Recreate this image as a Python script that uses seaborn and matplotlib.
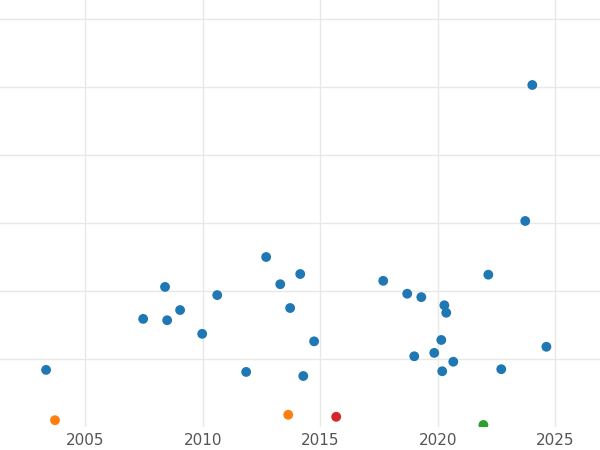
import matplotlib
matplotlib.use("Agg")
import matplotlib.pyplot as plt
import seaborn as sns
import pandas as pd

# Values (year, relative value)
years = [2003.34, 2007.47, 2008.40, 2008.49, 2009.04, 2009.98, 2010.62, 2011.85,
         2012.70, 2013.30, 2013.72, 2014.15, 2014.28, 2014.74, 2017.68, 2018.70,
         2019.00, 2019.30, 2019.85, 2020.15, 2020.28, 2020.36, 2020.19, 2020.66,
         2022.15, 2022.70, 2023.72, 2024.02, 2024.62,
         2003.72, 2013.64, 2015.68, 2021.94]
values = [0.84, 1.59, 2.06, 1.57, 1.72, 1.37, 1.94, 0.81,
          2.50, 2.10, 1.75, 2.25, 0.75, 1.26, 2.15, 1.96,
          1.04, 1.91, 1.09, 1.28, 1.79, 1.68, 0.82, 0.96,
          2.24, 0.85, 3.03, 5.03, 1.18,
          0.10, 0.18, 0.15, 0.03]
groups = ["A"] * 29 + ["B", "B", "C", "D"]
palette = {"A": "#1f77b4", "B": "#ff7f0e", "C": "#d62728", "D": "#2ca02c"}

df = pd.DataFrame({"year": years, "value": values, "group": groups})

sns.set_theme(style="whitegrid")
fig = plt.figure(figsize=(6, 4.5), dpi=100)
ax = fig.add_axes([0, 23 / 450, 1, 427 / 450])
sns.scatterplot(data=df, x="year", y="value", hue="group", palette=palette,
                s=50, edgecolor="none", legend=False, ax=ax, clip_on=True)
ax.set_xlim(2001.38, 2026.9)
ax.set_ylim(0, 6.28)
ax.set_xticks([2005, 2010, 2015, 2020, 2025])
ax.set_yticks([1, 2, 3, 4, 5, 6])
ax.set_yticklabels([])
ax.tick_params(axis="y", length=0)
ax.tick_params(axis="x", length=0, labelsize=11, labelcolor="#555555", pad=4)
ax.set_xlabel("")
ax.set_ylabel("")
ax.grid(color="#e8e8e8", linewidth=1)
for s in ax.spines.values():
    s.set_visible(False)
fig.savefig("out.png", dpi=100)
